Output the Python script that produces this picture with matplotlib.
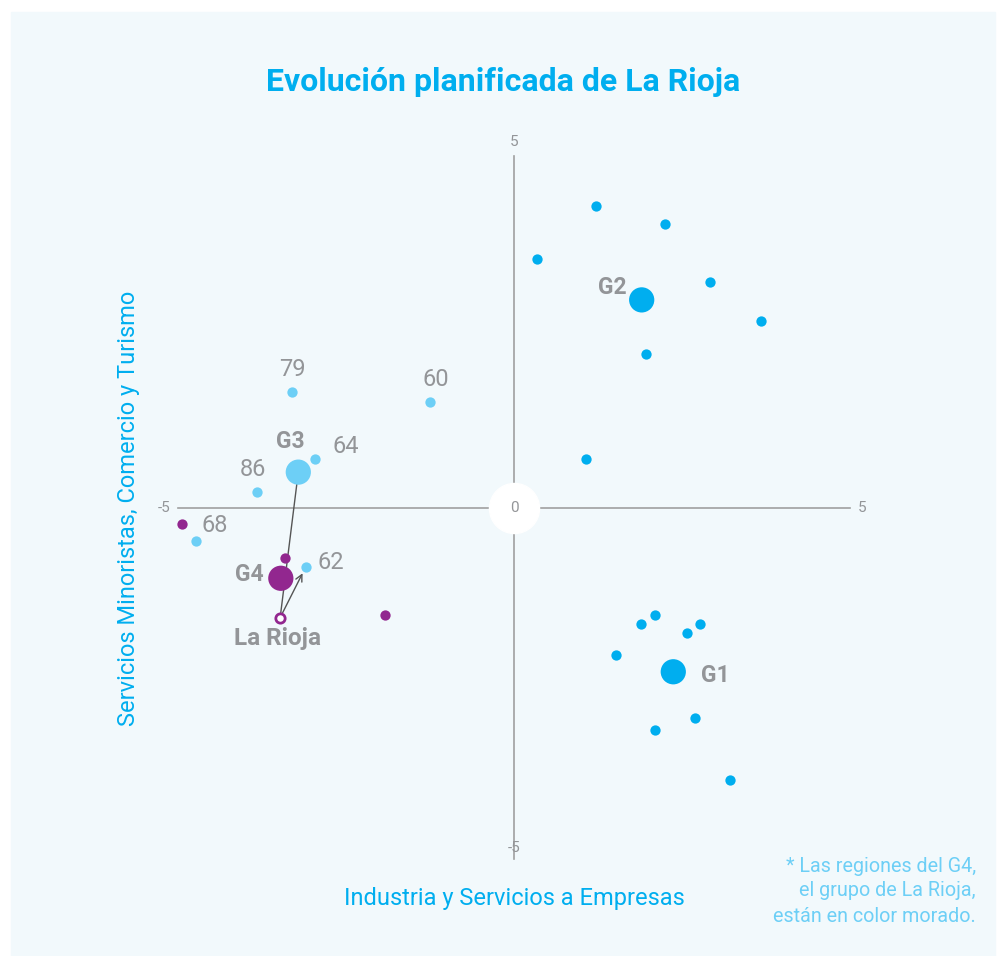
import matplotlib.pyplot as plt
from matplotlib.patches import Rectangle

plt.rcParams['font.family'] = ['Roboto', 'DejaVu Sans']

# Datos (coordenadas en el plano factorial)
g1_x = [2.10, 1.89, 2.77, 2.57, 1.52, 2.69, 2.10, 3.21]
g1_y = [-1.52, -1.65, -1.65, -1.78, -2.09, -2.99, -3.16, -3.87]
g2_x = [1.22, 2.25, 0.34, 2.92, 3.68, 1.96, 1.07]
g2_y = [4.30, 4.04, 3.54, 3.21, 2.66, 2.19, 0.70]
g3_nombres = ['79', '60', '64', '86', '68', '62']
g3_x = [-3.30, -1.25, -2.96, -3.82, -4.73, -3.10]
g3_y = [1.65, 1.51, 0.70, 0.23, -0.47, -0.84]
g4_x = [-4.94, -3.41, -1.92]
g4_y = [-0.23, -0.71, -1.52]
centros = ['G1', 'G2', 'G3', 'G4']
centros_x = [2.37, 1.90, -3.21, -3.47]
centros_y = [-2.33, 2.96, 0.51, -1.00]
rioja_x, rioja_y = -3.48, -1.56

azul = '#00aeef'
celeste = '#6dcff6'
morado = '#92278f'
gris = '#939598'

fig = plt.figure(figsize=(10.08, 9.56), dpi=100)
fig.patches.append(Rectangle((11 / 1008, 0), 984 / 1008, 944 / 956,
                             transform=fig.transFigure, color='#f2f9fc', zorder=-10))
ax = fig.add_axes([0, 0, 1, 1])
ax.set_xlim(-7.649, 7.351)
ax.set_ylim(-6.373, 7.226)
ax.axis('off')
ax.patch.set_alpha(0)

# ejes
ax.plot([-5, 5], [0, 0], color='#a0a0a0', lw=1.2, zorder=1)
ax.plot([0, 0], [-5, 5], color='#a0a0a0', lw=1.2, zorder=1)
ax.scatter([0], [0], s=1300, color='white', zorder=2)
ax.text(0, 0, '0', ha='center', va='center', fontsize=11, color=gris, zorder=3)
ax.text(5.18, 0, '5', ha='center', va='center', fontsize=11, color=gris)
ax.text(-5.2, 0, '-5', ha='center', va='center', fontsize=11, color=gris)
ax.text(0, 5.2, '5', ha='center', va='center', fontsize=11, color=gris)
ax.text(0, -4.83, '-5', ha='center', va='center', fontsize=11, color=gris)

# puntos
ax.scatter(g1_x, g1_y, s=55, color=azul, lw=0, zorder=4)
ax.scatter(g2_x, g2_y, s=55, color=azul, lw=0, zorder=4)
ax.scatter(g3_x, g3_y, s=55, color=celeste, lw=0, zorder=4)
ax.scatter(g4_x, g4_y, s=55, color=morado, lw=0, zorder=4)
colores_c = [azul, azul, celeste, morado]
ax.scatter(centros_x, centros_y, s=330, color=colores_c, lw=0, zorder=5)

# lineas desde La Rioja
ax.plot([rioja_x, centros_x[2]], [rioja_y, centros_y[2]], color='#555555', lw=1, zorder=3)
ax.annotate('', xy=(g3_x[5], g3_y[5]), xytext=(rioja_x, rioja_y),
            arrowprops=dict(arrowstyle='->', color='#555555', lw=1,
                            shrinkA=4, shrinkB=5, mutation_scale=12), zorder=3)
ax.scatter([rioja_x], [rioja_y], s=45, facecolor='white', edgecolor=morado, lw=2, zorder=6)

# etiquetas
off_num = [(0, 16), (4, 16), (22, 9), (-3, 16), (13, 11), (18, 3)]
for n, x, y, o in zip(g3_nombres, g3_x, g3_y, off_num):
    ax.annotate(n, (x, y), xytext=o, textcoords='offset points', ha='center',
                va='center', fontsize=17, color=gris)
off_c = [(30, -3), (-21, 9), (-6, 22), (-23, 3)]
for n, x, y, o in zip(centros, centros_x, centros_y, off_c):
    ax.annotate(n, (x, y), xytext=o, textcoords='offset points', ha='center',
                va='center', fontsize=16.5, fontweight='bold', color=gris)
ax.annotate('La Rioja', (rioja_x, rioja_y), xytext=(-2, -15), textcoords='offset points',
            ha='center', va='center', fontsize=17.5, fontweight='bold', color=gris)

# textos
fig.text(503 / 1008, 1 - 82 / 956, 'Evolución planificada de La Rioja', ha='center',
         va='center', fontsize=23, fontweight='bold', color=azul)
fig.text(514 / 1008, 1 - 898 / 956, 'Industria y Servicios a Empresas', ha='center',
         va='center', fontsize=17, color=azul)
fig.text(128 / 1008, 1 - 508 / 956, 'Servicios Minoristas, Comercio y Turismo',
         ha='center', va='center', rotation=90, fontsize=17, color=azul)
fig.text(976 / 1008, 1 - 891 / 956,
         '* Las regiones del G4,\nel grupo de La Rioja,\nestán en color morado.',
         ha='right', va='center', fontsize=14.2, color=celeste, linespacing=1.4)

fig.savefig('out.png', dpi=100)
